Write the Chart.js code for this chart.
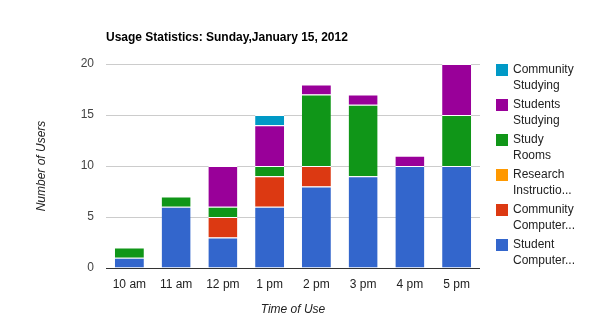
<!DOCTYPE html>
<html>
<head>
<meta charset="utf-8">
<script src="https://cdn.jsdelivr.net/npm/chart.js@4/dist/chart.umd.min.js"></script>
<style>
  html, body { margin: 0; padding: 0; background: #fff; }
  #wrap { width: 590px; height: 332px; position: relative; }
</style>
</head>
<body>
<div id="wrap"><canvas id="usage-chart" width="590" height="332"></canvas></div>
<script>
const times = ['10 am', '11 am', '12 pm', '1 pm', '2 pm', '3 pm', '4 pm', '5 pm'];
const yTicks = [0, 5, 10, 15, 20];

const studentComputers   = [1, 6, 3, 6, 8, 9, 10, 10];
const communityComputers = [0, 0, 2, 3, 2, 0, 0, 0];
const researchInstr      = [0, 0, 0, 0, 0, 0, 0, 0];
const studyRooms         = [1, 1, 1, 1, 7, 7, 0, 5];
const studentsStudying   = [0, 0, 4, 4, 1, 1, 1, 5];
const communityStudying  = [0, 0, 0, 1, 0, 0, 0, 0];

// legend text as shown (wrapped / truncated like the original)
const seriesNames = [
    ['Student', 'Computer...'],
    ['Community', 'Computer...'],
    ['Research', 'Instructio...'],
    ['Study', 'Rooms'],
    ['Students', 'Studying'],
    ['Community', 'Studying']
];
const seriesColors = ['#3366cc', '#dc3912', '#ff9900', '#109618', '#990099', '#0099c6'];
const seriesData = [studentComputers, communityComputers, researchInstr, studyRooms, studentsStudying, communityStudying];

const FONT = 'Arial, "Liberation Sans", sans-serif';

// title, axis titles and the wrapped legend
const extras = {
    id: 'extras',
    afterDraw(chart) {
        const c = chart.ctx;
        const area = chart.chartArea;
        c.save();
        c.fillStyle = '#000';
        c.font = 'bold 12px ' + FONT;
        c.textAlign = 'left';
        c.textBaseline = 'middle';
        c.fillText('Usage Statistics: Sunday,January 15, 2012', area.left, 38);

        c.fillStyle = '#222';
        c.font = 'italic 12px ' + FONT;
        c.textAlign = 'center';
        c.fillText('Time of Use', (area.left + area.right) / 2, 310);
        c.save();
        c.translate(42, (area.top + area.bottom) / 2);
        c.rotate(-Math.PI / 2);
        c.fillText('Number of Users', 0, 0);
        c.restore();

        c.font = '12px ' + FONT;
        c.textAlign = 'left';
        for (let i = 0; i < seriesNames.length; i++) {
            const k = seriesNames.length - 1 - i;
            const y = 64 + i * 35;
            c.fillStyle = seriesColors[k];
            c.fillRect(496, y, 12, 12);
            c.fillStyle = '#222';
            c.fillText(seriesNames[k][0], 513, y + 6);
            c.fillText(seriesNames[k][1], 513, y + 22);
        }
        c.restore();
    }
};

new Chart(document.getElementById('usage-chart'), {
    type: 'bar',
    data: {
        labels: times,
        datasets: seriesData.map((d, i) => ({
            label: seriesNames[i].join(' '),
            data: d,
            backgroundColor: seriesColors[i],
            borderColor: '#fff',
            borderWidth: { top: 1, bottom: 0, left: 0, right: 0 },
            borderSkipped: false,
            categoryPercentage: 1,
            barPercentage: 0.62
        }))
    },
    options: {
        responsive: false,
        animation: false,
        layout: { padding: { left: 0, right: 110, top: 64, bottom: 0 } },
        plugins: {
            legend: { display: false },
            tooltip: { enabled: false }
        },
        scales: {
            x: {
                stacked: true,
                grid: { display: false, drawTicks: false },
                border: { display: false },
                ticks: { color: '#222', font: { family: FONT, size: 12 }, padding: 9 },
                afterFit(scale) { scale.height = 64; }
            },
            y: {
                stacked: true,
                min: 0,
                max: 20,
                afterBuildTicks(scale) { scale.ticks = yTicks.map(v => ({ value: v })); },
                grid: {
                    drawTicks: false,
                    color: ctx => ctx.tick && ctx.tick.value === 0 ? '#333' : '#ccc',
                    lineWidth: 1
                },
                border: { display: false },
                ticks: { color: '#444', font: { family: FONT, size: 12 }, padding: 12 },
                afterFit(scale) { scale.width = 106; }
            }
        }
    },
    plugins: [extras]
});
</script>
</body>
</html>
